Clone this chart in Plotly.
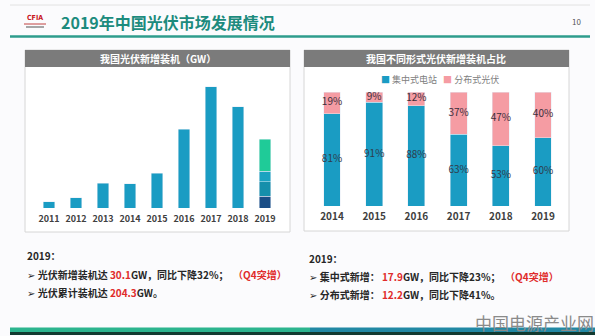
import plotly.graph_objects as go

# ---------------- data ----------------
years_all = ['2011', '2012', '2013', '2014', '2015', '2016', '2017', '2018', '2019']
years_hist = ['2011', '2012', '2013', '2014', '2015', '2016', '2017', '2018']
new_install = [2.7, 4.5, 10.95, 10.6, 15.13, 34.54, 53.06, 44.26]
quarters = ['Q1', 'Q2', 'Q3', 'Q4']
q2019 = [5.2, 6.2, 4.6, 14.1]
total_2019 = 30.1

share_years = ['2014', '2015', '2016', '2017', '2018', '2019']
central = [81, 91, 88, 63, 53, 60]
distributed = [19, 9, 12, 37, 47, 40]

# ---------------- styles ----------------
W, H = 595, 336
FONT = 'Noto Sans CJK SC, DejaVu Sans, sans-serif'
BLUE = '#1a9cc3'
Q_COLORS = ['#1b4e86', '#168fab', '#1aa2c0', '#1fcb98']
PINK = '#f59ca3'
RED = '#e02b2b'
TEAL = '#1c8b7d'


def px(x):
    return x / W


def py(y):
    return 1 - y / H


fig = go.Figure()

# left chart
fig.add_trace(go.Bar(x=years_hist, y=new_install, marker_color=BLUE, width=0.41,
                     xaxis='x', yaxis='y', showlegend=False, hoverinfo='x+y'))
for q, v, c in zip(quarters, q2019, Q_COLORS):
    fig.add_trace(go.Bar(x=['2019'], y=[v], name=q, marker_color=c, width=0.41,
                         xaxis='x', yaxis='y', showlegend=False))

# right chart
fig.add_trace(go.Bar(x=share_years, y=central, name='集中式电站', marker_color=BLUE,
                     width=0.40, xaxis='x2', yaxis='y2', showlegend=False))
fig.add_trace(go.Bar(x=share_years, y=distributed, name='分布式光伏', marker_color=PINK,
                     width=0.40, xaxis='x2', yaxis='y2', showlegend=False))
fig.add_trace(go.Scatter(x=share_years, y=[c / 2 for c in central], mode='text',
                         text=[f'{c}%' for c in central], xaxis='x2', yaxis='y2',
                         textfont=dict(family=FONT, size=10, color='#2f3b4c'),
                         showlegend=False, hoverinfo='skip'))
fig.add_trace(go.Scatter(x=share_years, y=[c + d / 2 for c, d in zip(central, distributed)],
                         mode='text', text=[f'{d}%' for d in distributed],
                         xaxis='x2', yaxis='y2',
                         textfont=dict(family=FONT, size=10, color='#3a2f3c'),
                         showlegend=False, hoverinfo='skip'))

shapes = []
annotations = []

# slide decorations
shapes.append(dict(type='line', xref='paper', yref='paper', x0=px(10), x1=px(590),
                   y0=py(5), y1=py(5), line=dict(color='#e2e2e2', width=1)))
shapes.append(dict(type='line', xref='paper', yref='paper', x0=px(10), x1=px(590),
                   y0=py(36.5), y1=py(36.5), line=dict(color='#2e9c8c', width=2.5)))
# bottom stripe
shapes.append(dict(type='rect', xref='paper', yref='paper', x0=px(10), x1=px(310),
                   y0=py(332), y1=py(327.5), fillcolor='#2cb48e', line=dict(width=0)))
shapes.append(dict(type='rect', xref='paper', yref='paper', x0=px(310), x1=px(595),
                   y0=py(332), y1=py(327.5), fillcolor='#2188a4', line=dict(width=0)))
shapes.append(dict(type='rect', xref='paper', yref='paper', x0=px(10), x1=px(595),
                   y0=py(335), y1=py(332), fillcolor='#123a30', line=dict(width=0)))
# logo bits
shapes.append(dict(type='line', xref='paper', yref='paper', x0=px(24), x1=px(46),
                   y0=py(24), y1=py(24), line=dict(color='#c04040', width=1)))
shapes.append(dict(type='line', xref='paper', yref='paper', x0=px(26), x1=px(44),
                   y0=py(27), y1=py(27), line=dict(color='#8a8a8a', width=1.5)))

# panels
for (x0, x1, y0, y1, title) in [(25, 290, 50, 232, '我国光伏新增装机（GW）'),
                                (304, 569, 50, 231, '我国不同形式光伏新增装机占比')]:
    shapes.append(dict(type='rect', xref='paper', yref='paper', layer='below',
                       x0=px(x0), x1=px(x1), y0=py(y1), y1=py(y0),
                       fillcolor='#ffffff', line=dict(color='#d6d6d6', width=1)))
    shapes.append(dict(type='rect', xref='paper', yref='paper', layer='below',
                       x0=px(x0), x1=px(x1), y0=py(67), y1=py(y0),
                       fillcolor='#7b7b7b', line=dict(width=0)))
    annotations.append(dict(xref='paper', yref='paper', x=px((x0 + x1) / 2), y=py(58.5),
                            text=f'<b>{title}</b>', showarrow=False,
                            font=dict(family=FONT, size=10, color='#ffffff'),
                            xanchor='center', yanchor='middle'))

# title, logo, page number
annotations.append(dict(xref='paper', yref='paper', x=px(59), y=py(21.5),
                        text='<b>2019年中国光伏市场发展情况</b>', showarrow=False,
                        font=dict(family=FONT, size=16, color=TEAL),
                        xanchor='left', yanchor='middle'))
annotations.append(dict(xref='paper', yref='paper', x=px(35), y=py(17.5),
                        text='<b>CFIA</b>', showarrow=False,
                        font=dict(family='DejaVu Sans Condensed, DejaVu Sans', size=7, color='#c8161d'),
                        xanchor='center', yanchor='middle'))
annotations.append(dict(xref='paper', yref='paper', x=px(576), y=py(22),
                        text='10', showarrow=False,
                        font=dict(family=FONT, size=8, color='#555555'),
                        xanchor='center', yanchor='middle'))

# 2019 total label
annotations.append(dict(xref='x', yref='y', x='2019', y=total_2019, yshift=15,
                        text=f'<b>{total_2019}</b>', showarrow=False,
                        font=dict(family=FONT, size=8, color='#c81e2a'),
                        xanchor='center', yanchor='middle'))

# legend (right chart)
annotations.append(dict(xref='paper', yref='paper', x=px(440), y=py(79),
                        text=(f'<span style="color:{BLUE}">■</span> 集中式电站   '
                              f'<span style="color:{PINK}">■</span> 分布式光伏'),
                        showarrow=False,
                        font=dict(family=FONT, size=9, color='#808080'),
                        xanchor='center', yanchor='middle'))

# bottom texts
txt = dict(family=FONT, size=10, color='#262626')


def red(s):
    return f'<span style="color:{RED}">{s}</span>'


lines = [
    (25, 255, '<b>2019：</b>'),
    (25, 274, f'<b>➢ 光伏新增装机达 {red("30.1")}GW，同比下降32%；  {red("（Q4突增）")}</b>'),
    (25, 292, f'<b>➢ 光伏累计装机达 {red("204.3")}GW。</b>'),
    (307, 258, '<b>2019：</b>'),
    (307, 276, f'<b>➢ 集中式新增： {red("17.9")}GW，同比下降23%；  {red("（Q4突增）")}</b>'),
    (307, 294, f'<b>➢ 分布式新增： {red("12.2")}GW，同比下降41%。</b>'),
]
for x, y, t in lines:
    annotations.append(dict(xref='paper', yref='paper', x=px(x), y=py(y), text=t,
                            showarrow=False, font=txt, xanchor='left', yanchor='middle'))

# watermark
annotations.append(dict(xref='paper', yref='paper', x=px(596), y=py(322),
                        text='中国电源产业网', showarrow=False,
                        font=dict(family=FONT, size=17, color='#8a8a8a'),
                        xanchor='right', yanchor='middle'))

# axes geometry (pixels)
lx0, lx1 = 49 - 13.5, 265 + 13.5
rx0, rx1 = 332 - 21.1, 543 + 21.1

fig.update_layout(
    width=W, height=H, autosize=False,
    margin=dict(l=0, r=0, t=0, b=0),
    paper_bgcolor='#fbfbfd', plot_bgcolor='rgba(0,0,0,0)',
    barmode='stack',
    shapes=shapes, annotations=annotations,
    font=dict(family=FONT),
    xaxis=dict(domain=[px(lx0), px(lx1)], anchor='y', type='category',
               categoryorder='array', categoryarray=years_all,
               range=[-0.5, 8.5], showgrid=False, zeroline=False, showline=False,
               ticks='', tickfont=dict(family=FONT, size=9, color='#404040', weight='bold'),
               ticklabelstandoff=4, fixedrange=True),
    yaxis=dict(domain=[py(208), py(71)], anchor='x', range=[0, 60],
               showgrid=False, zeroline=False, showticklabels=False, fixedrange=True),
    xaxis2=dict(domain=[px(rx0), px(rx1)], anchor='y2', type='category',
                categoryorder='array', categoryarray=share_years,
                range=[-0.5, 5.5], showgrid=False, zeroline=False, showline=False,
                ticks='', tickfont=dict(family=FONT, size=10, color='#404040', weight='bold'),
                ticklabelstandoff=3, fixedrange=True),
    yaxis2=dict(domain=[py(206), py(92)], anchor='x2', range=[0, 100],
                showgrid=False, zeroline=False, showticklabels=False, fixedrange=True),
)

fig.write_html('out.html')
